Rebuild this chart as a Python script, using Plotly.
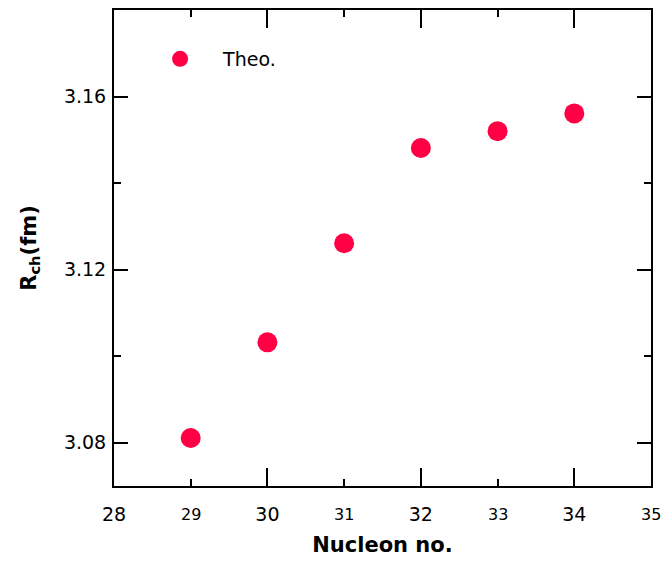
import plotly.graph_objects as go

nucleon = [29, 30, 31, 32, 33, 34]
rch = [3.0811, 3.1032, 3.1261, 3.1481, 3.1520, 3.1561]

major_x = [28, 30, 32, 34]
minor_x_labels = [29, 31, 33, 35]
y_ticks = [3.08, 3.12, 3.16]
y_tick_labels = ["3.08", "3.12", "3.16"]

color = "#FF0044"
font = "DejaVu Sans"

fig = go.Figure()
fig.add_trace(go.Scatter(
    x=nucleon, y=rch, mode="markers", name="Theo.",
    marker=dict(size=20, color=color, line=dict(width=0)),
))

axis_common = dict(
    showline=True, linewidth=2, linecolor="black", mirror="ticks",
    ticks="inside", tickwidth=2, tickcolor="black",
    showgrid=False, zeroline=False,
)

fig.update_xaxes(
    range=[28, 35], tickvals=major_x, ticktext=[str(v) for v in major_x],
    ticklen=18, tickfont=dict(family=font, size=19, color="black"),
    ticklabelstandoff=10,
    minor=dict(dtick=1, tick0=28, ticks="inside", ticklen=7, tickwidth=2, tickcolor="black", showgrid=False),
    title=dict(text="<b>Nucleon no.</b>", font=dict(family=font, size=21, color="black"), standoff=14),
    **axis_common,
)
fig.update_yaxes(
    range=[3.07, 3.18], tickvals=y_ticks, ticktext=y_tick_labels,
    ticklen=14, tickfont=dict(family=font, size=19, color="black"),
    ticklabelstandoff=2,
    minor=dict(dtick=0.02, tick0=3.08, ticks="inside", ticklen=7, tickwidth=2, tickcolor="black", showgrid=False),
    title=dict(text="<b>R<sub>ch</sub>(fm)</b>", font=dict(family=font, size=21, color="black"), standoff=22),
    **axis_common,
)

for v in minor_x_labels:
    fig.add_annotation(
        x=v, xref="x", y=0, yref="paper", yanchor="top", yshift=-17,
        text=str(v), showarrow=False,
        font=dict(family=font, size=16, color="black"),
    )

fig.update_layout(
    width=662, height=561,
    margin=dict(l=114, r=11, t=8, b=74),
    plot_bgcolor="white", paper_bgcolor="white",
    showlegend=True,
    legend=dict(x=0.043, y=0.937, xanchor="left", yanchor="top",
                font=dict(family=font, size=19, color="black"),
                bgcolor="rgba(0,0,0,0)", itemsizing="trace", itemwidth=76),
)

fig.write_html("out.html")
